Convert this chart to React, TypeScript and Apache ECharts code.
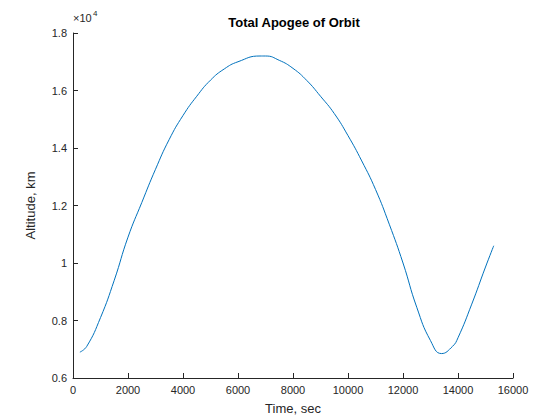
import React, { useEffect, useRef } from 'react';
import * as echarts from 'echarts';

const times = [250, 500, 1000, 1500, 2000, 2500, 3000, 3500, 4000, 4500, 5000, 5500, 6000, 6800, 7000, 7500, 8000, 8500, 9000, 9500, 10000, 10500, 11000, 11500, 12000, 12500, 13000, 13400, 13800, 14000, 14500, 15000, 15300];
const altitude = [6900, 7100, 8100, 9400, 10900, 12100, 13260, 14300, 15130, 15800, 16360, 16750, 17000, 17200, 17200, 17050, 16770, 16350, 15800, 15200, 14430, 13550, 12560, 11350, 10000, 8460, 7300, 6850, 7100, 7400, 8570, 9860, 10600];

const font = 'Liberation Sans, Arial, sans-serif';

const App: React.FC = () => {
  const chartRef = useRef<HTMLDivElement>(null);

  useEffect(() => {
    if (!chartRef.current) return;
    const chart = echarts.init(chartRef.current, null, { renderer: 'svg' });
    chart.setOption({
      animation: false,
      backgroundColor: '#fff',
      title: {
        text: 'Total Apogee of Orbit',
        left: 281, top: 3, textAlign: 'center',
        textStyle: { fontFamily: font, fontSize: 13, fontWeight: 'bold', color: '#000' }
      },
      graphic: [
        { type: 'text', left: 65, top: 4, style: { text: '×10', font: '11px ' + font, fill: '#262626' } },
        { type: 'text', left: 85, top: 1, style: { text: '4', font: '8px ' + font, fill: '#262626' } }
      ],
      grid: { left: 65, right: 47, top: 25, bottom: 36 },
      xAxis: {
        type: 'value', min: 0, max: 16000, interval: 2000,
        name: 'Time, sec', nameLocation: 'middle', nameGap: 24,
        nameTextStyle: { fontFamily: font, fontSize: 13, color: '#262626' },
        axisLine: { lineStyle: { color: '#262626' } },
        axisTick: { inside: true, length: 5, lineStyle: { color: '#262626' } },
        axisLabel: { fontFamily: font, fontSize: 11, color: '#262626', margin: 6, formatter: (v: number) => String(v) },
        splitLine: { show: false }
      },
      yAxis: {
        type: 'value', min: 6000, max: 18000, interval: 2000,
        name: 'Altitude, km', nameLocation: 'middle', nameGap: 36,
        nameTextStyle: { fontFamily: font, fontSize: 13, color: '#262626' },
        axisLine: { show: true, lineStyle: { color: '#262626' } },
        axisTick: { show: true, inside: true, length: 5, lineStyle: { color: '#262626' } },
        axisLabel: {
          fontFamily: font, fontSize: 11, color: '#262626', margin: 6,
          formatter: (v: number) => String(Math.round(v / 1000) / 10)
        },
        splitLine: { show: false }
      },
      series: [{
        type: 'line',
        data: times.map((t, i) => [t, altitude[i]]),
        smooth: 0.5,
        showSymbol: false,
        lineStyle: { color: '#0072bd', width: 1 }
      }]
    });
    return () => chart.dispose();
  }, []);

  return <div ref={chartRef} style={{ width: 552, height: 412 }} />;
};

export default App;
